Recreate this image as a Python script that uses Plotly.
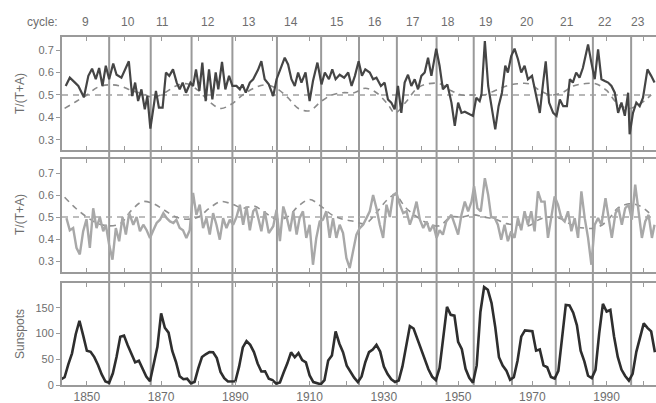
import plotly.graph_objects as go

# ---------------- data ----------------
cycle_numbers = ["9", "10", "11", "12", "13", "14", "15", "16", "17", "18", "19", "20", "21", "22", "23"]
cycle_label_years = [1849.7, 1861.0, 1870.4, 1882.5, 1893.8, 1905.1, 1917.3, 1927.5, 1937.8,
                     1947.2, 1957.4, 1968.5, 1979.2, 1989.5, 1998.4]
cycle_minima = [1856.0, 1867.2, 1878.2, 1889.2, 1901.2, 1913.1, 1923.3, 1933.5, 1944.2,
                1954.2, 1964.5, 1976.3, 1986.3, 1996.6]

top_years = [1844.3, 1845.4, 1846.8, 1847.7, 1849.2, 1850.4, 1851.4, 1852.4, 1853.3, 1854.2,
             1855.1, 1856.0, 1857.1, 1858.0, 1859.3, 1860.2, 1861.3, 1862.2, 1863.0, 1863.8,
             1864.7, 1865.6, 1866.3, 1867.1, 1867.9, 1868.6, 1869.4, 1870.4, 1871.3, 1872.2,
             1873.2, 1874.2, 1875.0, 1875.8, 1876.7, 1877.9, 1878.6, 1879.4, 1880.3, 1881.1,
             1882.0, 1882.9, 1883.8, 1884.7, 1885.4, 1886.4, 1887.3, 1888.3, 1889.2, 1890.3,
             1891.2, 1891.9, 1892.8, 1893.9, 1894.8, 1896.1, 1897.0, 1897.9, 1899.0, 1900.2,
             1901.1, 1902.2, 1903.3, 1904.2, 1905.1, 1906.0, 1906.9, 1907.8, 1908.9, 1910.0,
             1910.9, 1912.1, 1913.2, 1914.1, 1915.2, 1916.1, 1917.0, 1918.1, 1919.3, 1920.4,
             1921.3, 1922.2, 1923.2, 1924.1, 1925.0, 1926.2, 1927.1, 1928.0, 1929.2, 1930.2,
             1931.1, 1932.0, 1932.9, 1933.8, 1934.7, 1935.6, 1936.5, 1937.4, 1938.3, 1939.2,
             1940.1, 1941.0, 1941.9, 1942.8, 1944.1, 1945.0, 1945.9, 1947.1, 1948.2, 1949.1,
             1950.0, 1950.9, 1951.8, 1953.1, 1954.0, 1954.9, 1955.8, 1956.3, 1957.2, 1958.1,
             1958.9, 1960.0, 1960.9, 1961.8, 1962.7, 1963.4, 1964.3, 1965.2, 1966.1, 1967.0,
             1967.9, 1968.8, 1969.9, 1970.8, 1972.0, 1972.9, 1973.6, 1974.5, 1975.6, 1976.5,
             1977.4, 1978.3, 1979.3, 1980.1, 1980.9, 1981.8, 1982.7, 1983.6, 1985.0, 1985.9,
             1986.8, 1987.7, 1988.6, 1989.5, 1990.4, 1991.3, 1992.2, 1993.1, 1994.0, 1994.9,
             1995.8, 1996.2, 1997.1, 1998.0, 1998.9, 1999.8, 2001.0, 2002.0, 2002.9]
top_ratio = [0.540, 0.577, 0.555, 0.540, 0.490, 0.585, 0.617, 0.570, 0.620, 0.540,
             0.630, 0.570, 0.640, 0.590, 0.577, 0.607, 0.650, 0.495, 0.555, 0.473,
             0.525, 0.436, 0.495, 0.350, 0.450, 0.518, 0.444, 0.444, 0.600, 0.585,
             0.614, 0.555, 0.525, 0.555, 0.510, 0.555, 0.540, 0.614, 0.518, 0.644,
             0.473, 0.614, 0.480, 0.600, 0.525, 0.647, 0.525, 0.585, 0.540, 0.540,
             0.525, 0.547, 0.510, 0.555, 0.570, 0.612, 0.650, 0.570, 0.547, 0.495,
             0.570, 0.614, 0.666, 0.636, 0.570, 0.540, 0.600, 0.555, 0.600, 0.473,
             0.562, 0.644, 0.547, 0.600, 0.570, 0.614, 0.570, 0.590, 0.577, 0.600,
             0.540, 0.585, 0.650, 0.585, 0.614, 0.600, 0.570, 0.577, 0.540, 0.555,
             0.480, 0.466, 0.436, 0.540, 0.420, 0.555, 0.590, 0.540, 0.570, 0.525,
             0.585, 0.600, 0.666, 0.585, 0.706, 0.630, 0.525, 0.547, 0.466, 0.362,
             0.466, 0.420, 0.425, 0.414, 0.407, 0.488, 0.473, 0.503, 0.740, 0.540,
             0.466, 0.347, 0.450, 0.510, 0.630, 0.600, 0.673, 0.706, 0.660, 0.600,
             0.630, 0.570, 0.585, 0.510, 0.420, 0.555, 0.650, 0.466, 0.420, 0.407,
             0.480, 0.450, 0.450, 0.570, 0.555, 0.600, 0.577, 0.620, 0.725, 0.644,
             0.570, 0.703, 0.570, 0.562, 0.555, 0.540, 0.510, 0.420, 0.466, 0.407,
             0.510, 0.325, 0.420, 0.466, 0.450, 0.488, 0.614, 0.585, 0.555]

top_trend_years = [1844, 1847, 1850, 1853, 1856, 1859, 1862, 1865, 1868, 1871, 1874, 1877,
                   1880, 1883, 1886, 1889, 1892, 1895, 1898, 1901, 1904, 1907, 1910, 1913,
                   1916, 1919, 1922, 1925, 1928, 1931, 1933, 1936, 1939, 1942, 1945, 1948,
                   1951, 1954, 1957, 1960, 1963, 1966, 1969, 1972, 1975, 1978, 1981, 1984,
                   1987, 1990, 1993, 1996, 1999, 2002]
top_trend = [0.44, 0.47, 0.50, 0.535, 0.545, 0.54, 0.52, 0.505, 0.49, 0.51, 0.54, 0.55,
             0.52, 0.47, 0.44, 0.46, 0.50, 0.53, 0.545, 0.53, 0.49, 0.44, 0.43, 0.47,
             0.50, 0.51, 0.51, 0.53, 0.51, 0.46, 0.42, 0.47, 0.53, 0.55, 0.55, 0.52,
             0.50, 0.50, 0.50, 0.52, 0.54, 0.55, 0.55, 0.52, 0.50, 0.51, 0.54, 0.55,
             0.55, 0.52, 0.46, 0.44, 0.46, 0.50]

mid_years = [1844.5, 1845.4, 1846.3, 1847.2, 1848.1, 1849.0, 1849.9, 1850.8, 1851.7, 1852.6,
             1853.5, 1854.4, 1855.1, 1856.0, 1856.9, 1857.8, 1858.7, 1859.6, 1860.5, 1861.4,
             1862.5, 1863.4, 1864.3, 1865.2, 1866.1, 1867.0, 1867.9, 1868.8, 1869.7, 1870.6,
             1871.5, 1872.4, 1873.3, 1874.1, 1875.0, 1875.9, 1876.8, 1877.7, 1878.6, 1879.5,
             1880.4, 1881.3, 1882.2, 1883.1, 1884.0, 1884.9, 1885.8, 1886.7, 1887.6, 1888.5,
             1889.4, 1890.3, 1891.2, 1892.1, 1893.0, 1893.9, 1894.8, 1895.5, 1896.1, 1897.0,
             1897.9, 1899.0, 1900.2, 1901.1, 1902.0, 1902.9, 1903.8, 1904.7, 1905.6, 1906.5,
             1907.3, 1908.2, 1909.1, 1910.0, 1910.9, 1911.8, 1912.7, 1913.6, 1914.5, 1915.4,
             1916.3, 1917.2, 1918.1, 1919.0, 1919.9, 1920.8, 1921.7, 1922.6, 1923.5, 1924.4,
             1925.3, 1926.2, 1927.1, 1928.0, 1928.9, 1929.8, 1930.7, 1931.6, 1932.5, 1933.4,
             1934.3, 1935.2, 1936.1, 1937.0, 1937.9, 1938.8, 1939.7, 1940.6, 1941.5, 1942.4,
             1943.3, 1944.2, 1945.0, 1945.9, 1946.8, 1948.2, 1949.1, 1950.0, 1950.9, 1951.8,
             1952.7, 1953.6, 1954.3, 1955.2, 1956.1, 1957.2, 1958.1, 1958.9, 1959.9, 1960.7,
             1961.6, 1962.5, 1963.4, 1964.3, 1965.2, 1966.1, 1967.0, 1967.9, 1968.8, 1969.7,
             1970.6, 1971.5, 1972.4, 1973.3, 1974.2, 1975.1, 1976.0, 1976.9, 1977.8, 1978.7,
             1979.6, 1980.5, 1981.4, 1982.3, 1983.2, 1984.1, 1985.0, 1985.9, 1986.8, 1987.7,
             1988.6, 1989.7, 1990.5, 1991.4, 1992.4, 1993.2, 1994.1, 1995.0, 1995.9, 1996.8,
             1997.7, 1998.6, 1999.5, 2000.4, 2001.3, 2002.2, 2002.9]
mid_ratio = [0.495, 0.440, 0.450, 0.360, 0.330, 0.435, 0.490, 0.360, 0.540, 0.450,
             0.500, 0.435, 0.465, 0.374, 0.306, 0.450, 0.390, 0.500, 0.420, 0.518,
             0.465, 0.500, 0.435, 0.465, 0.440, 0.405, 0.440, 0.473, 0.488, 0.518,
             0.495, 0.480, 0.473, 0.488, 0.450, 0.440, 0.405, 0.440, 0.610, 0.510,
             0.556, 0.450, 0.495, 0.420, 0.518, 0.465, 0.397, 0.495, 0.450, 0.488,
             0.465, 0.500, 0.556, 0.465, 0.548, 0.440, 0.526, 0.540, 0.500, 0.435,
             0.526, 0.427, 0.458, 0.533, 0.390, 0.548, 0.500, 0.435, 0.526, 0.420,
             0.495, 0.526, 0.405, 0.465, 0.283, 0.405, 0.480, 0.488, 0.526, 0.405,
             0.495, 0.405, 0.465, 0.427, 0.314, 0.268, 0.344, 0.420, 0.450, 0.465,
             0.495, 0.526, 0.600, 0.540, 0.465, 0.405, 0.556, 0.500, 0.600, 0.610,
             0.556, 0.518, 0.526, 0.465, 0.510, 0.570, 0.488, 0.450, 0.480, 0.435,
             0.465, 0.405, 0.440, 0.420, 0.480, 0.510, 0.465, 0.420, 0.510, 0.570,
             0.526, 0.570, 0.640, 0.540, 0.526, 0.677, 0.600, 0.500, 0.495, 0.465,
             0.397, 0.465, 0.390, 0.435, 0.405, 0.495, 0.440, 0.526, 0.465, 0.526,
             0.435, 0.617, 0.570, 0.570, 0.405, 0.510, 0.594, 0.556, 0.495, 0.480,
             0.526, 0.435, 0.495, 0.405, 0.617, 0.495, 0.405, 0.283, 0.465, 0.495,
             0.465, 0.586, 0.500, 0.405, 0.518, 0.540, 0.465, 0.540, 0.556, 0.488,
             0.647, 0.526, 0.405, 0.480, 0.510, 0.405, 0.465]

mid_trend_years = top_trend_years
mid_trend = [0.59, 0.54, 0.50, 0.47, 0.46, 0.47, 0.53, 0.57, 0.56, 0.53, 0.50, 0.49,
             0.50, 0.54, 0.57, 0.56, 0.54, 0.55, 0.52, 0.49, 0.50, 0.55, 0.58, 0.55,
             0.51, 0.49, 0.48, 0.47, 0.52, 0.58, 0.60, 0.54, 0.50, 0.47, 0.46, 0.50,
             0.50, 0.51, 0.50, 0.49, 0.47, 0.465, 0.46, 0.49, 0.50, 0.49, 0.46, 0.45,
             0.45, 0.48, 0.54, 0.56, 0.55, 0.51]

sun_years = list(range(1843, 2004))
sunspots = [10.7, 15.0, 40.1, 61.5, 98.5, 124.7, 96.3, 66.6, 64.5, 54.1, 39.0, 20.6, 6.7, 4.3,
            22.7, 54.8, 93.8, 95.8, 77.2, 59.1, 44.0, 47.0, 30.5, 16.3, 7.3, 37.6, 74.0, 139.0,
            111.2, 101.6, 66.2, 44.7, 17.0, 11.3, 12.4, 3.4, 6.0, 32.3, 54.3, 59.7, 63.7, 63.5,
            52.2, 25.4, 13.1, 6.8, 6.3, 7.1, 35.6, 73.0, 85.1, 78.0, 64.0, 41.8, 26.2, 26.7,
            12.1, 9.5, 2.7, 5.0, 24.4, 42.0, 63.5, 53.8, 62.0, 48.5, 43.9, 18.6, 5.7, 3.6,
            1.4, 9.6, 47.4, 57.1, 103.9, 80.6, 63.6, 37.6, 26.1, 14.2, 5.8, 16.7, 44.3, 63.9,
            69.0, 77.8, 64.9, 35.7, 21.2, 11.1, 5.7, 8.7, 36.1, 79.7, 114.4, 109.6, 88.8, 67.8,
            47.5, 30.6, 16.3, 9.6, 33.2, 92.6, 151.6, 136.3, 134.7, 83.9, 69.4, 31.5, 13.9, 4.4,
            38.0, 141.7, 190.2, 184.8, 159.0, 112.3, 53.9, 37.6, 27.9, 10.2, 15.1, 47.0, 93.8,
            105.9, 105.5, 104.5, 66.6, 68.9, 38.0, 34.5, 15.5, 12.6, 27.5, 92.5, 155.4, 154.6,
            140.4, 115.9, 66.6, 45.9, 17.9, 13.4, 29.4, 100.2, 157.6, 142.6, 145.7, 94.3, 54.6,
            29.9, 17.5, 8.6, 21.5, 64.3, 93.3, 119.6, 111.0, 104.0, 63.7]

ratio_ticks = [0.3, 0.4, 0.5, 0.6, 0.7]
sun_ticks = [0, 50, 100, 150]
year_ticks = [1850, 1870, 1890, 1910, 1930, 1950, 1970, 1990]

# ---------------- figure ----------------
FONT = "Liberation Sans, Arial, sans-serif"
TXT = "#6e6e6e"
FRAME = "#9a9a9a"
W, H = 656, 403
ML, MT, MB = 62, 37, 18
plot_h = H - MT - MB
plot_w = W - ML


def py(pix):
    return (H - MB - pix) / plot_h


fig = go.Figure()

fig.add_trace(go.Scatter(x=[1843.3, 2004], y=[0.5, 0.5], mode="lines", xaxis="x", yaxis="y",
                         line=dict(color="#a0a0a0", width=1.5, dash="6px,5px"), hoverinfo="skip"))
fig.add_trace(go.Scatter(x=top_trend_years, y=top_trend, mode="lines", xaxis="x", yaxis="y",
                         line=dict(color="#8a8a8a", width=1.6, dash="6px,5px", shape="spline")))
fig.add_trace(go.Scatter(x=top_years, y=top_ratio, mode="lines", xaxis="x", yaxis="y",
                         line=dict(color="#454545", width=2.2)))

fig.add_trace(go.Scatter(x=[1843.3, 2004], y=[0.5, 0.5], mode="lines", xaxis="x2", yaxis="y2",
                         line=dict(color="#a8a8a8", width=1.5, dash="6px,5px"), hoverinfo="skip"))
fig.add_trace(go.Scatter(x=mid_trend_years, y=mid_trend, mode="lines", xaxis="x2", yaxis="y2",
                         line=dict(color="#909090", width=1.6, dash="6px,5px", shape="spline")))
fig.add_trace(go.Scatter(x=mid_years, y=mid_ratio, mode="lines", xaxis="x2", yaxis="y2",
                         line=dict(color="#a8a8a8", width=2.4)))

fig.add_trace(go.Scatter(x=sun_years, y=sunspots, mode="lines", xaxis="x3", yaxis="y3",
                         line=dict(color="#2e2e2e", width=2.6)))

xcommon = dict(range=[1843.3, 2003.3], showline=True, linecolor=FRAME, linewidth=2,
               mirror="ticks", ticks="inside", ticklen=4, tickcolor=FRAME, tickwidth=1,
               tickvals=year_ticks, showgrid=False, zeroline=False,
               minor=dict(dtick=10, tick0=1850, ticks="inside", ticklen=4, tickcolor=FRAME,
                          showgrid=False),
               tickfont=dict(family=FONT, size=12, color=TXT))
ycommon = dict(showline=True, linecolor=FRAME, linewidth=2, ticks="outside", ticklen=4,
               tickcolor=FRAME, showgrid=False, zeroline=False,
               tickfont=dict(family=FONT, size=11, color=TXT))

d1 = [py(150), 1.0]
d2 = [py(272), py(159)]
d3 = [0.0, py(283)]

fig.update_layout(
    width=W, height=H,
    margin=dict(l=ML, r=0, t=MT, b=MB),
    paper_bgcolor="white", plot_bgcolor="white",
    showlegend=False,
    font=dict(family=FONT, color=TXT),
    xaxis=dict(xcommon, domain=[0, 1], anchor="y", showticklabels=False),
    xaxis2=dict(xcommon, domain=[0, 1], anchor="y2", showticklabels=False, matches="x"),
    xaxis3=dict(xcommon, domain=[0, 1], anchor="y3", showticklabels=True, matches="x"),
    yaxis=dict(ycommon, domain=d1, anchor="x", range=[0.255, 0.758], tickvals=ratio_ticks),
    yaxis2=dict(ycommon, domain=d2, anchor="x2", range=[0.25, 0.764], tickvals=ratio_ticks),
    yaxis3=dict(ycommon, domain=d3, anchor="x3", range=[0, 198], tickvals=sun_ticks),
)

shapes = []
for m in cycle_minima:
    shapes.append(dict(type="line", xref="x", yref="paper", x0=m, x1=m, y0=0, y1=1,
                       line=dict(color=FRAME, width=2), layer="below"))
fig.update_layout(shapes=shapes)

ann = []
for lab, yr in zip(cycle_numbers, cycle_label_years):
    ann.append(dict(x=yr, y=py(22), xref="x", yref="paper", text=lab, showarrow=False,
                    font=dict(family=FONT, size=12, color=TXT), xanchor="center", yanchor="middle"))
ann.append(dict(x=(42 - ML) / plot_w, y=py(22), xref="paper", yref="paper", text="cycle:",
                showarrow=False, font=dict(family=FONT, size=12, color=TXT),
                xanchor="center", yanchor="middle"))
for txt, ypix in [("T/(T+A)", 94), ("T/(T+A)", 215), ("Sunspots", 334)]:
    ann.append(dict(x=(20 - ML) / plot_w, y=py(ypix), xref="paper", yref="paper", text=txt,
                    textangle=-90, showarrow=False, font=dict(family=FONT, size=12, color=TXT),
                    xanchor="center", yanchor="middle"))
fig.update_layout(annotations=ann)

fig.write_html("out.html", config={"displayModeBar": False},
               post_script="document.body.style.margin='0px';document.body.style.overflow='hidden';")
